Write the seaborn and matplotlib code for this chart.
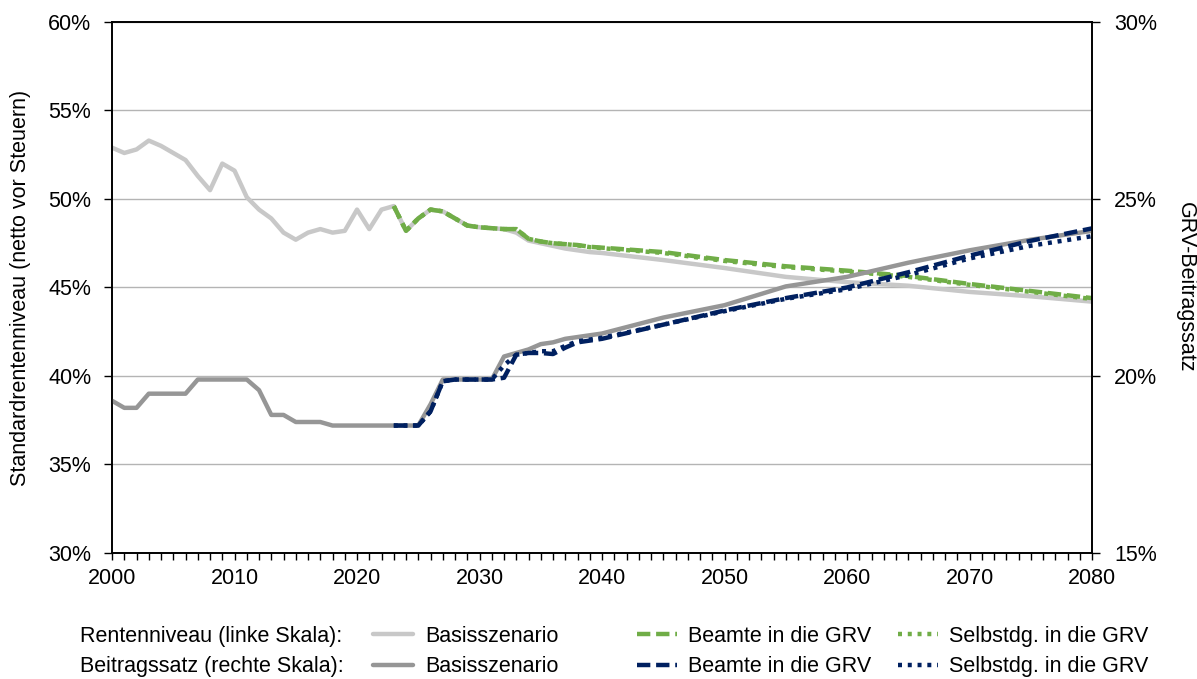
import matplotlib
matplotlib.use("Agg")
import matplotlib.pyplot as plt
from matplotlib.ticker import MultipleLocator, FuncFormatter
from matplotlib.lines import Line2D
import seaborn as sns

# jahre: jaehrlich bis 2040, danach in 5-Jahres-Schritten
jahre = list(range(2000, 2041)) + [2045, 2050, 2055, 2060, 2065, 2070, 2075, 2080]
jahre_szen = list(range(2023, 2041)) + [2045, 2050, 2055, 2060, 2065, 2070, 2075, 2080]

# Rentenniveau (linke Skala), Basisszenario
rn_basis = [52.9, 52.6, 52.8, 53.3, 53.0, 52.6, 52.2, 51.3, 50.5, 52.0,
            51.6, 50.1, 49.4, 48.9, 48.1, 47.7, 48.1, 48.3, 48.1, 48.2,
            49.4, 48.3, 49.4, 49.6, 48.2, 48.9, 49.4, 49.3, 48.9, 48.5,
            48.4, 48.35, 48.3, 48.1, 47.65, 47.5, 47.35, 47.2, 47.1, 47.0,
            46.95, 46.55, 46.1, 45.6, 45.3, 45.1, 44.75, 44.5, 44.2]
rn_beamte = [49.6, 48.2, 48.9, 49.4, 49.3, 48.9, 48.5, 48.4, 48.35, 48.3,
             48.3, 47.75, 47.6, 47.5, 47.45, 47.4, 47.3, 47.25,
             47.0, 46.55, 46.2, 45.95, 45.65, 45.2, 44.8, 44.4]
rn_selbst = [49.6, 48.2, 48.9, 49.4, 49.3, 48.9, 48.5, 48.4, 48.35, 48.3,
             48.3, 47.75, 47.6, 47.5, 47.45, 47.38, 47.28, 47.22,
             46.95, 46.5, 46.15, 45.9, 45.6, 45.15, 44.75, 44.35]

# Beitragssatz (rechte Skala), Basisszenario
bs_basis = [19.3, 19.1, 19.1, 19.5, 19.5, 19.5, 19.5, 19.9, 19.9, 19.9,
            19.9, 19.9, 19.6, 18.9, 18.9, 18.7, 18.7, 18.7, 18.6, 18.6,
            18.6, 18.6, 18.6, 18.6, 18.6, 18.6, 19.2, 19.9, 19.9, 19.9,
            19.9, 19.9, 20.55, 20.65, 20.75, 20.9, 20.95, 21.05, 21.1, 21.15,
            21.2, 21.65, 22.0, 22.53, 22.8, 23.2, 23.55, 23.85, 24.1]
bs_beamte = [18.6, 18.6, 18.6, 19.0, 19.85, 19.9, 19.9, 19.9, 19.9, 19.95,
             20.6, 20.65, 20.65, 20.62, 20.8, 20.95, 21.0, 21.05,
             21.45, 21.85, 22.2, 22.5, 22.93, 23.4, 23.82, 24.17]
bs_selbst = [18.6, 18.6, 18.6, 19.0, 19.85, 19.9, 19.9, 19.9, 19.9, 20.3,
             20.6, 20.65, 20.7, 20.7, 20.85, 20.98, 21.03, 21.08,
             21.45, 21.83, 22.18, 22.45, 22.85, 23.32, 23.68, 23.95]

hellgrau = "#c8c8c8"
dunkelgrau = "#969696"
gruen = "#70ad47"
navy = "#002060"

sns.set_style("white")
plt.rcParams["font.family"] = ["Liberation Sans", "DejaVu Sans"]
plt.rcParams["text.color"] = "black"
plt.rcParams["axes.labelcolor"] = "black"
plt.rcParams["xtick.color"] = "black"
plt.rcParams["ytick.color"] = "black"
fs = 15.5

fig = plt.figure(figsize=(11.97, 6.79), dpi=100)
ax = fig.add_axes([0.0936, 0.1856, 0.8187, 0.782])
ax2 = ax.twinx()

lw = 3.2
gestrichelt = (0, (3, 1.3))
gepunktet = (0, (0.9, 1.3))

sns.lineplot(x=jahre, y=rn_basis, ax=ax, color=hellgrau, linewidth=lw)
sns.lineplot(x=jahre_szen, y=rn_beamte, ax=ax, color=gruen, linewidth=lw, linestyle=gestrichelt)
sns.lineplot(x=jahre_szen, y=rn_selbst, ax=ax, color=gruen, linewidth=lw, linestyle=gepunktet)

sns.lineplot(x=jahre, y=bs_basis, ax=ax2, color=dunkelgrau, linewidth=lw)
sns.lineplot(x=jahre_szen, y=bs_beamte, ax=ax2, color=navy, linewidth=lw, linestyle=gestrichelt)
sns.lineplot(x=jahre_szen, y=bs_selbst, ax=ax2, color=navy, linewidth=lw, linestyle=gepunktet)

ax.set_xlim(2000, 2080)
ax.set_ylim(30, 60)
ax2.set_ylim(15, 30)

ax.xaxis.set_major_locator(MultipleLocator(10))
ax.xaxis.set_minor_locator(MultipleLocator(1))
ax.yaxis.set_major_locator(MultipleLocator(5))
ax2.yaxis.set_major_locator(MultipleLocator(5))
pct = FuncFormatter(lambda v, p: f"{v:.0f}%")
ax.yaxis.set_major_formatter(pct)
ax2.yaxis.set_major_formatter(pct)

ax.yaxis.grid(True, color="#b4b4b4", linewidth=1)
ax.set_axisbelow(True)

for a in (ax, ax2):
    for s in a.spines.values():
        s.set_color("black")
        s.set_linewidth(1.2)
    a.tick_params(axis="both", which="both", direction="out", color="black",
                  labelcolor="black", labelsize=fs, width=1)
ax.tick_params(axis="x", which="both", length=5, bottom=True, pad=6)
ax.tick_params(axis="y", length=6, left=True, pad=9)
ax2.tick_params(axis="y", length=6, right=True, pad=10)

ax.set_ylabel("Standardrentenniveau (netto vor Steuern)", fontsize=fs, labelpad=12)
ax2.set_ylabel("GRV-Beitragssatz", fontsize=fs, rotation=-90, labelpad=28)
ax.set_xlabel("")
ax2.set_xlabel("")

# Legende: Zeilenbeschriftungen plus drei Spalten
fig.text(0.0668, 0.0625, "Rentenniveau (linke Skala):", fontsize=fs, va="center")
fig.text(0.0668, 0.0185, "Beitragssatz (rechte Skala):", fontsize=fs, va="center")

spalten = [
    (0.312, [(hellgrau, "-"), (dunkelgrau, "-")], "Basisszenario"),
    (0.532, [(gruen, gestrichelt), (navy, gestrichelt)], "Beamte in die GRV"),
    (0.750, [(gruen, gepunktet), (navy, gepunktet)], "Selbstdg. in die GRV"),
]
for x0, stile, text in spalten:
    handles = [Line2D([], [], color=c, linestyle=ls, linewidth=lw) for c, ls in stile]
    fig.legend(handles, [text, text], loc="center left", bbox_to_anchor=(x0, 0.0405),
               frameon=False, fontsize=fs, handlelength=1.85, handletextpad=0.55,
               borderpad=0, borderaxespad=0, labelspacing=0.45)

fig.savefig("out.png", dpi=100)
